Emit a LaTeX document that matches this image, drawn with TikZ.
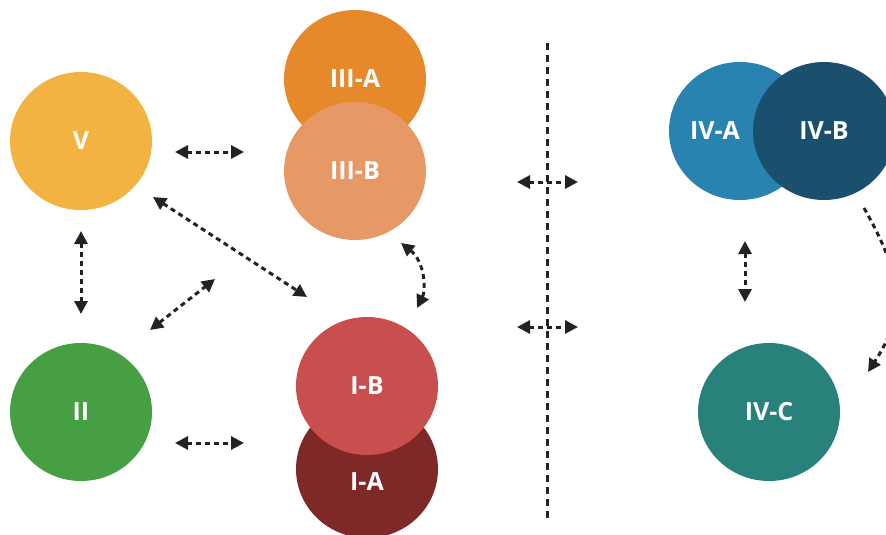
\documentclass[tikz,border=0pt]{standalone}
\usepackage{fontspec}
\setmainfont{Open Sans}
\usetikzlibrary{arrows.meta,shapes.geometric}
\definecolor{cV}{HTML}{F2B342}
\definecolor{cIIIA}{HTML}{E6892B}
\definecolor{cIIIB}{HTML}{E69966}
\definecolor{cIB}{HTML}{C94E4E}
\definecolor{cIA}{HTML}{7F2828}
\definecolor{cII}{HTML}{46A043}
\definecolor{cIVA}{HTML}{2983B1}
\definecolor{cIVB}{HTML}{1A506E}
\definecolor{cIVC}{HTML}{28827B}
\definecolor{ink}{HTML}{222222}
\tikzset{
  lbl/.style={text=white, font=\fontsize{25}{25}\selectfont\bfseries},
  blob/.style={ellipse, minimum width=142pt, minimum height=138pt, inner sep=0pt, lbl},
  link/.style={draw=ink, line width=3pt, dash pattern=on 5pt off 4pt},
  both/.style={link, {Triangle[length=13pt,width=13pt]}-{Triangle[length=13pt,width=13pt]}},
  one/.style={link, -{Triangle[length=13pt,width=13pt]}},
  divider/.style={draw=ink, line width=3pt, dash pattern=on 7pt off 5pt}
}
\begin{document}
\begin{tikzpicture}[x=1pt,y=-1pt]
\useasboundingbox (0,0) rectangle (886,535);
\clip (0,0) rectangle (886,535);
% nodes
\node[blob, fill=cV] (V) at (81,141) {V};
\node[blob, fill=cIIIA] (IIIA) at (355,79) {III-A};
\node[blob, fill=cIIIB] (IIIB) at (355,171) {III-B};
\node[blob, fill=cIA] (IA) at (367,469) {};
\node[blob, fill=cIB] (IB) at (367,386) {I-B};
\node[lbl] (IAt) at (367,482) {I-A};
\node[blob, fill=cII] (II) at (81,412) {II};
\node[blob, fill=cIVA] (IVA) at (740,131) {};
\node[lbl] (IVAt) at (715,131) {IV-A};
\node[blob, fill=cIVB] (IVB) at (824,131) {IV-B};
\node[blob, fill=cIVC] (IVC) at (769,412) {IV-C};
% connector ends
\coordinate (a1) at (175,152); \coordinate (a2) at (244,152);
\coordinate (b1) at (175,443); \coordinate (b2) at (244,443);
\coordinate (c1) at (81,231); \coordinate (c2) at (81,314);
\coordinate (d1) at (153,197); \coordinate (d2) at (307,297);
\coordinate (e1) at (150,330); \coordinate (e2) at (215,279);
\coordinate (f1) at (401,243); \coordinate (f2) at (417,308);
\coordinate (g1) at (745,241); \coordinate (g2) at (745,302);
\coordinate (h1) at (517,182); \coordinate (h2) at (578,182);
\coordinate (k1) at (517,327); \coordinate (k2) at (578,327);
\coordinate (m1) at (864,208); \coordinate (m2) at (868,372);
\coordinate (t) at (547,43); \coordinate (u) at (547,520);
% divider
\draw[divider] (t) -- (u);
% connectors
\draw[both] (a1) -- (a2);
\draw[both] (b1) -- (b2);
\draw[both] (c1) -- (c2);
\draw[both] (d1) -- (d2);
\draw[both] (e1) -- (e2);
\draw[both] (f1) .. controls (425,262) and (426,290) .. (f2);
\draw[both] (g1) -- (g2);
\draw[both] (h1) -- (h2);
\draw[both] (k1) -- (k2);
\draw[one] (m1) .. controls (905,280) and (905,315) .. (m2);
\end{tikzpicture}
\end{document}
